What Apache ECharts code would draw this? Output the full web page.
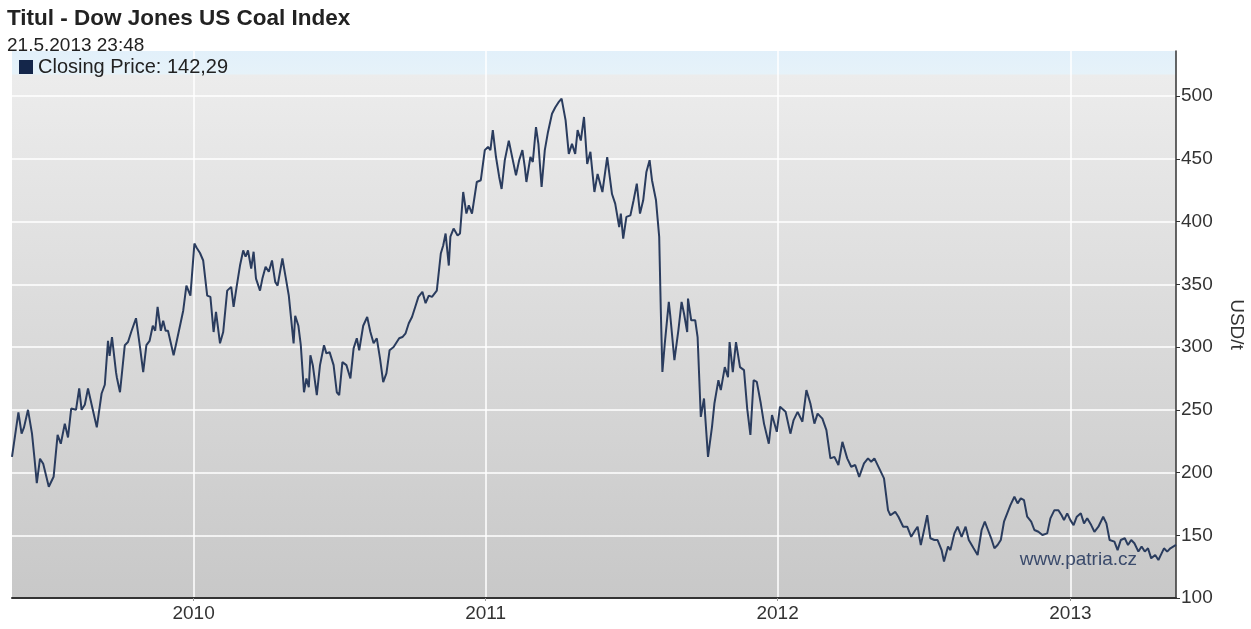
<!DOCTYPE html>
<html><head><meta charset="utf-8">
<script src="https://cdn.jsdelivr.net/npm/echarts@6/dist/echarts.min.js"></script>
<style>html,body{margin:0;padding:0;background:#fff}#c{width:1251px;height:629px}</style>
</head><body><div id="c"></div>
<script>
const startDate = '2009-05-19';
const endDate = '2013-05-13';
const yearTicks = ['2010-01-01', '2011-01-01', '2012-01-01', '2013-01-01'];
const priceTicks = [100, 150, 200, 250, 300, 350, 400, 450, 500];
const seriesName = 'Closing Price';

// days after startDate (the source chart spaces sessions, not calendar days)
const dayOffsets = [0,8,12,15,20,25,28,31,35,39,46,52,57,61,66,70,74,80,84,87,91,95,101,106,112,116,120,122,125,130,131,135,141,145,149,155,160,164,168,172,176,179,182,186,189,192,195,202,206,212,214,218,223,228,231,235,239,
244,248,252,255,260,264,269,274,277,281,285,289,292,295,299,302,305,310,313,317,321,325,329,332,338,342,346,352,354,358,361,365,368,371,373,376,381,385,390,393,397,402,406,409,413,418,423,427,431,434,439,444,448,452,456,460,464,468,472,477,481,484,
488,492,496,500,504,508,513,517,521,525,531,536,539,542,546,548,552,557,560,564,568,571,575,581,586,591,595,598,601,605,609,612,616,621,626,630,634,638,641,643,648,651,655,658,662,666,670,675,679,683,687,692,696,700,704,707,711,715,719,
723,728,732,738,744,750,754,759,761,764,768,773,777,781,785,789,793,797,800,805,809,811,813,816,821,823,828,833,837,840,844,845,849,854,857,861,865,870,875,878,883,886,891,895,897,901,905,910,915,919,923,927,931,936,940,946,950,956,960,
967,973,977,982,988,993,998,1003,1007,1013,1018,1023,1028,1033,1038,1044,1049,1054,1059,1065,1070,1074,1078,1084,1090,1095,1098,1104,1108,1114,1119,1124,1129,1132,1136,1141,1144,1148,1153,1157,1162,1165,1170,1173,1178,1182,1187,1192,1196,
1202,1207,1212,1216,1220,1224,1228,1232,1236,1240,1244,1248,1253,1257,1261,1265,1269,1274,1278,1283,1288,1294,1298,1303,1308,1312,1315,1319,1323,1327,1331,1336,1340,1344,1349,1353,1358,1364,1368,1372,1378,1382,1386,1391,1395,1399,1403,1408,1412,1416,1420,1424,1429,1433,1437,1440,1444,1448,1455];

const closingPrice = [212.5,248,231,236,250,231,212,191.6,211,207,188.7,196.6,230,223,239,228,251,250,267,250,254,267,250,236,263,270,305,293,308,280,276,264,301.5,304,312,323,300,280,301.5,305,317,313,332,313,321,313,313,293.5,305,323,329,349,341,382.5,379,375,369,
341,340,312,328,303,312,345,348,332,349,365,377,372,377,362.6,376,354.6,345,354.6,364,360,369,352,349,370.6,356,341,303,325,317,301.5,264,275,268,293.5,285.6,261.7,285.6,301.5,295,296,285.6,264,261.7,288,285.6,275,299,307,297.5,317,324,312,303,307,291,272,279,297.5,300,304,307,
308,311,319,324,332,340,344,335,341,340,345,374.6,381,390.5,365,388,394.5,389,390.5,423.6,406.4,413,406.4,431.6,433,457,459.5,457,473,451.5,435.6,426,449,464.6,449,437,449,457,443.5,431.6,451.5,447.5,475.4,462,427.6,457,471.5,486,491,495,498,480.7,454,462,454,473,464.6,483.4,446,
455.6,423.6,438,423.6,451.5,422,414.4,395.7,406.4,386.5,403.8,405,417,430.3,406.4,417,439.6,449,433,417,387.8,329.4,280.2,303,336,324,289.6,313.5,336,326.8,312,338.7,321.4,321.4,308,244.4,259,212.5,236.4,255,273.6,265.7,284,276,304,280,304,284,281.6,251,230,273.6,272.3,255,239,223,245.8,232.5,252.5,
248.4,231,241.8,248.4,240.5,265.7,255,239,247,243,233.8,211.3,212.5,206,224.5,211.3,204.6,206,196.6,207.3,211.3,208.6,211.3,203.3,195.3,170,166,168.7,164.8,156.8,156.8,148.8,154,156.8,142.2,156.8,166,147.6,146.2,146.2,138.2,129,141,138.2,151.5,156.8,148.8,156.8,146.2,
139.6,134.3,154.2,160.8,154.2,147.6,139.6,142.2,146.2,160.8,167.5,174,180.7,175.4,179.4,178,164.8,160.8,154.2,152.8,150.2,151.5,163.5,170,170,166,162.1,167.5,162.1,158.1,164.8,167.5,159.5,163.5,158.1,152.8,156.8,164.8,159.5,146.2,144.9,138.2,146.2,147.6,142.2,146.2,143.6,137,141,137,139.6,131.6,134.3,130.3,135.6,139.6,137,139.6,142.29];

const DAY = 864e5;
const t0 = Date.parse(startDate);
const t1 = Date.parse(endDate);
const yearTs = yearTicks.map(s => Date.parse(s));
const seriesData = dayOffsets.map((d, i) => [t0 + d * DAY, closingPrice[i]]);
const lastValue = closingPrice[closingPrice.length - 1].toFixed(2).replace('.', ',');
const FF = '"Liberation Sans", Arial, sans-serif';

const chart = echarts.init(document.getElementById('c'));
chart.setOption({
  animation: false,
  backgroundColor: '#ffffff',
  title: {
    text: 'Titul - Dow Jones US Coal Index',
    subtext: '21.5.2013 23:48',
    left: 7, top: 7, itemGap: 6, padding: 0,
    textStyle: { fontFamily: FF, fontSize: 22.5, fontWeight: 'bold', color: '#222' },
    subtextStyle: { fontFamily: FF, fontSize: 19, color: '#222' }
  },
  legend: {
    left: 19, top: 57, padding: 0,
    icon: 'rect', itemWidth: 14, itemHeight: 14,
    selectedMode: false,
    itemStyle: { color: '#14264a' },
    textStyle: { fontFamily: FF, fontSize: 20, color: '#222' },
    formatter: name => name + ': ' + lastValue,
    data: [seriesName]
  },
  grid: {
    left: 12, right: 75, top: 51, bottom: 31,
    outerBoundsMode: 'none', containLabel: false,
    show: true, borderWidth: 0,
    backgroundColor: new echarts.graphic.LinearGradient(0, 0, 0, 1, [
      { offset: 0, color: '#e2f0fa' },
      { offset: 0.042, color: '#e6f2f9' },
      { offset: 0.044, color: '#ececec' },
      { offset: 1, color: '#c8c8c8' }
    ])
  },
  xAxis: {
    type: 'value', min: t0, max: t1,
    axisLine: { show: true, lineStyle: { color: '#333', width: 2 } },
    axisTick: { show: true, customValues: yearTs, length: 3, lineStyle: { color: '#999' } },
    axisLabel: { customValues: yearTs, formatter: v => String(new Date(v).getUTCFullYear()),
      fontFamily: FF, fontSize: 19, color: '#333', margin: 6 },
    splitLine: { show: true, lineStyle: { color: '#ffffff', width: 1.5 } }
  },
  yAxis: {
    type: 'value', position: 'right', min: 100, max: 536,
    axisLine: { show: true, lineStyle: { color: '#333', width: 1.5 } },
    axisTick: { show: true, customValues: priceTicks, length: 4, lineStyle: { color: '#333' } },
    axisLabel: { customValues: priceTicks, fontFamily: FF, fontSize: 19, color: '#333', margin: 5 },
    splitLine: { show: true, lineStyle: { color: '#ffffff', width: 1.5 } },
    name: 'USD/t', nameLocation: 'middle', nameRotate: -90, nameGap: 51,
    nameTextStyle: { fontFamily: FF, fontSize: 19, color: '#333' }
  },
  graphic: [{
    type: 'text', x: 1137, y: 560, z: 1, silent: true,
    style: { text: 'www.patria.cz', font: '19px ' + FF, fill: '#3a4a6b',
      textAlign: 'right', textVerticalAlign: 'middle', align: 'right', verticalAlign: 'middle' }
  }],
  series: [{
    type: 'line', name: seriesName, data: seriesData,
    symbol: 'none', showSymbol: false, z: 3,
    lineStyle: { color: '#2a3c5e', width: 2 },
    itemStyle: { color: '#2a3c5e' }
  }]
});
</script></body></html>
